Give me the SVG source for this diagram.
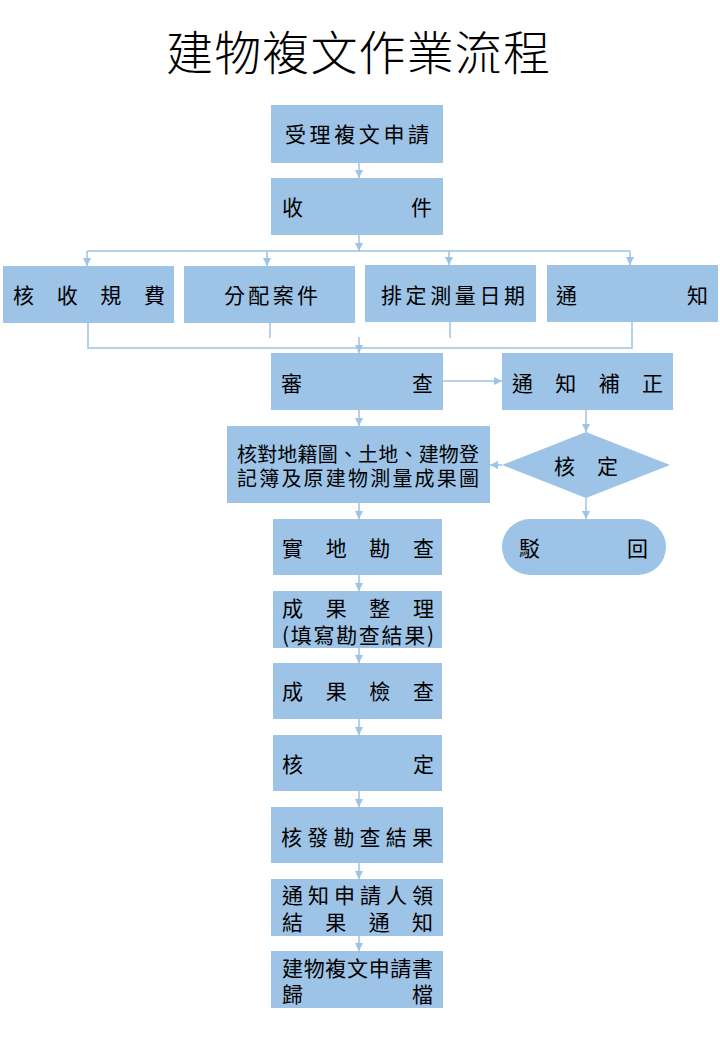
<svg xmlns="http://www.w3.org/2000/svg" width="720" height="1040" viewBox="0 0 720 1040">
<style>
.box{fill:#9DC3E6;stroke:none}
.t{font-family:"Noto Sans CJK TC","Noto Sans CJK SC",sans-serif;font-size:21px;fill:#000;dominant-baseline:central}
.s{font-size:20px}
.title{font-family:"Noto Sans CJK TC","Noto Sans CJK SC",sans-serif;font-size:47px;font-weight:300;fill:#000}
.c{stroke:#9DC3E6;stroke-width:1.5;fill:none}
.a{marker-end:url(#arr)}
</style>
<defs>
<marker id="arr" markerUnits="userSpaceOnUse" markerWidth="9" markerHeight="9" refX="8" refY="4" orient="auto">
<path d="M0,0 L8,4 L0,8 z" fill="#9DC3E6"/>
</marker>
</defs>
<rect width="720" height="1040" fill="#fff"/>
<text class="title" x="166" y="70" textLength="384" lengthAdjust="spacing">建物複文作業流程</text>

<g id="connectors">
<line class="c a" x1="359" y1="163" x2="359" y2="178"/>
<line class="c a" x1="359" y1="235" x2="359" y2="251"/>
<line class="c" x1="87" y1="251" x2="630" y2="251"/>
<line class="c a" x1="87" y1="251" x2="87" y2="266"/>
<line class="c a" x1="267" y1="251" x2="267" y2="266"/>
<line class="c a" x1="449" y1="251" x2="449" y2="265"/>
<line class="c a" x1="630" y1="251" x2="630" y2="265"/>
<polyline class="c" points="88,323 88,348 632,348 632,322"/>
<line class="c" x1="270" y1="323" x2="270" y2="338"/>
<line class="c" x1="450" y1="322" x2="450" y2="338"/>
<line class="c a" x1="359" y1="337" x2="359" y2="353"/>
<line class="c a" x1="443" y1="381" x2="502" y2="381"/>
<line class="c a" x1="359" y1="410" x2="359" y2="426"/>
<line class="c a" x1="586" y1="410" x2="586" y2="432"/>
<line class="c a" x1="502" y1="465" x2="490" y2="465"/>
<line class="c a" x1="586" y1="498" x2="586" y2="519"/>
<line class="c a" x1="359" y1="503" x2="359" y2="519"/>
<line class="c a" x1="359" y1="575" x2="359" y2="591"/>
<line class="c a" x1="359" y1="648" x2="359" y2="663"/>
<line class="c a" x1="359" y1="719" x2="359" y2="735"/>
<line class="c a" x1="359" y1="791" x2="359" y2="807"/>
<line class="c a" x1="359" y1="863" x2="359" y2="879"/>
<line class="c a" x1="359" y1="936" x2="359" y2="951"/>
</g>

<g id="n-accept"><rect class="box" x="271" y="105" width="172" height="58"/><text class="t" x="285" y="133" textLength="144" lengthAdjust="spacing">受理複文申請</text></g>
<g id="n-receive"><rect class="box" x="271" y="178" width="172" height="57"/><text class="t" x="282" y="206" textLength="150" lengthAdjust="spacing">收件</text></g>
<g id="n-fee"><rect class="box" x="3" y="266" width="171" height="57"/><text class="t" x="13" y="294" textLength="152" lengthAdjust="spacing">核收規費</text></g>
<g id="n-assign"><rect class="box" x="184" y="266" width="171" height="57"/><text class="t" x="224" y="294" textLength="94" lengthAdjust="spacing">分配案件</text></g>
<g id="n-schedule"><rect class="box" x="365" y="265" width="171" height="57"/><text class="t" x="381" y="294" textLength="144" lengthAdjust="spacing">排定測量日期</text></g>
<g id="n-notify"><rect class="box" x="547" y="265" width="171" height="57"/><text class="t" x="556" y="294" textLength="152" lengthAdjust="spacing">通知</text></g>
<g id="n-review"><rect class="box" x="271" y="353" width="172" height="57"/><text class="t" x="281" y="382" textLength="152" lengthAdjust="spacing">審查</text></g>
<g id="n-correct"><rect class="box" x="502" y="353" width="171" height="57"/><text class="t" x="512" y="382" textLength="151" lengthAdjust="spacing">通知補正</text></g>
<g id="n-check-docs"><rect class="box" x="227" y="426" width="263" height="77"/>
<text class="t s"><tspan x="237" y="453" textLength="242" lengthAdjust="spacing">核對地籍圖、土地、建物登</tspan><tspan x="237" y="477" textLength="242" lengthAdjust="spacing">記簿及原建物測量成果圖</tspan></text></g>
<g id="n-decide"><polygon class="box" points="586,432 670,465 586,498 502,465"/><text class="t" x="554" y="465" textLength="64" lengthAdjust="spacing">核定</text></g>
<g id="n-reject"><rect class="box" x="502" y="519" width="164" height="56" rx="28" ry="28"/><text class="t" x="519" y="547" textLength="129" lengthAdjust="spacing">駁回</text></g>
<g id="n-survey"><rect class="box" x="273" y="519" width="169" height="56"/><text class="t" x="282" y="547" textLength="152" lengthAdjust="spacing">實地勘查</text></g>
<g id="n-organize"><rect class="box" x="273" y="591" width="169" height="57"/>
<text class="t"><tspan x="282" y="607" textLength="152" lengthAdjust="spacing">成果整理</tspan><tspan x="282" y="634" textLength="152" lengthAdjust="spacing">(填寫勘查結果)</tspan></text></g>
<g id="n-inspect"><rect class="box" x="273" y="663" width="169" height="56"/><text class="t" x="282" y="690" textLength="152" lengthAdjust="spacing">成果檢查</text></g>
<g id="n-approve"><rect class="box" x="273" y="735" width="169" height="56"/><text class="t" x="282" y="763" textLength="152" lengthAdjust="spacing">核定</text></g>
<g id="n-issue"><rect class="box" x="271" y="807" width="172" height="56"/><text class="t" x="281" y="836" textLength="152" lengthAdjust="spacing">核發勘查結果</text></g>
<g id="n-inform"><rect class="box" x="271" y="879" width="172" height="57"/>
<text class="t"><tspan x="282" y="894" textLength="151" lengthAdjust="spacing">通知申請人領</tspan><tspan x="282" y="921" textLength="151" lengthAdjust="spacing">結果通知</tspan></text></g>
<g id="n-archive"><rect class="box" x="271" y="951" width="172" height="57"/>
<text class="t"><tspan x="282" y="967" textLength="151" lengthAdjust="spacing">建物複文申請書</tspan><tspan x="282" y="993" textLength="151" lengthAdjust="spacing">歸檔</tspan></text></g>
</svg>
